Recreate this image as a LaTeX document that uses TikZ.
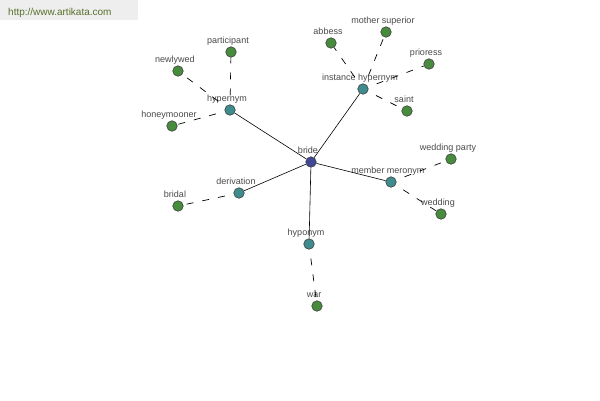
\documentclass[tikz,border=0pt]{standalone}
\usepackage{fontspec}
\setmainfont{Liberation Sans}
\definecolor{leafc}{HTML}{468C3C}
\definecolor{relc}{HTML}{3E8C8E}
\definecolor{rootc}{HTML}{3F4796}
\definecolor{lblc}{HTML}{4A4A4A}
\definecolor{wmc}{HTML}{55702A}
\definecolor{wmbg}{HTML}{EEEEEE}
\tikzset{
  dot/.style={circle, draw=black!75, line width=0.6pt, minimum size=10.5pt, inner sep=0pt},
  leaf/.style={dot, fill=leafc},
  rel/.style={dot, fill=relc},
  root/.style={dot, fill=rootc},
  lbl/.style={font=\fontsize{9}{10}\selectfont, text=lblc, inner sep=0pt, text height=0.72em, text depth=0.2em, xshift=-3pt},
  solidedge/.style={draw=black, line width=0.6pt},
  dashedge/.style={draw=black, line width=0.7pt, dash pattern=on 7pt off 9pt, dash phase=7pt},
}
\begin{document}
\begin{tikzpicture}[x=1pt, y=-1pt]
\useasboundingbox (0,0) rectangle (600,400);
\fill[white] (0,0) rectangle (600,400);
\fill[wmbg] (0,0) rectangle (138,20);
\node[anchor=base west, inner sep=0pt, text=wmc, font=\fontsize{10}{12}\selectfont] (wm) at (8,15) {http://www.artikata.com};

% nodes
\node[root, label={[lbl, label distance=1pt]90:bride}] (bride) at (311,162) {};
\node[rel, label={[lbl, label distance=1pt]90:hypernym}] (hyper) at (230,110) {};
\node[rel, label={[lbl, label distance=1pt]90:instance hypernym}] (inst) at (363,89) {};
\node[rel, label={[lbl, label distance=1pt]90:member meronym}] (memb) at (391,182) {};
\node[rel, label={[lbl, label distance=1pt]90:derivation}] (deriv) at (239,193) {};
\node[rel, label={[lbl, label distance=1pt]90:hyponym}] (hypo) at (309,244) {};

\node[leaf, label={[lbl, label distance=1pt]90:participant}] (partic) at (231,52) {};
\node[leaf, label={[lbl, label distance=1pt]90:newlywed}] (newly) at (178,71) {};
\node[leaf, label={[lbl, label distance=1pt]90:honeymooner}] (honey) at (172,126) {};
\node[leaf, label={[lbl, label distance=1pt]90:abbess}] (abbess) at (331,43) {};
\node[leaf, label={[lbl, label distance=1pt]90:mother superior}] (mother) at (386,32) {};
\node[leaf, label={[lbl, label distance=1pt]90:prioress}] (prior) at (429,64) {};
\node[leaf, label={[lbl, label distance=1pt]90:saint}] (saint) at (407,111) {};
\node[leaf, label={[lbl, label distance=1pt]90:wedding party}] (wparty) at (451,159) {};
\node[leaf, label={[lbl, label distance=1pt]90:wedding}] (wedding) at (441,214) {};
\node[leaf, label={[lbl, label distance=1pt]90:bridal}] (bridal) at (178,206) {};
\node[leaf, label={[lbl, label distance=1pt]90:war}] (war) at (317,306) {};

% edges
\draw[solidedge] (bride) -- (hyper);
\draw[solidedge] (bride) -- (inst);
\draw[solidedge] (bride) -- (memb);
\draw[solidedge] (bride) -- (deriv);
\draw[solidedge] (bride) -- (hypo);
\draw[dashedge] (hyper) -- (partic);
\draw[dashedge] (hyper) -- (newly);
\draw[dashedge] (hyper) -- (honey);
\draw[dashedge] (inst) -- (abbess);
\draw[dashedge] (inst) -- (mother);
\draw[dashedge] (inst) -- (prior);
\draw[dashedge] (inst) -- (saint);
\draw[dashedge] (memb) -- (wparty);
\draw[dashedge] (memb) -- (wedding);
\draw[dashedge] (deriv) -- (bridal);
\draw[dashedge] (hypo) -- (war);
\end{tikzpicture}
\end{document}
